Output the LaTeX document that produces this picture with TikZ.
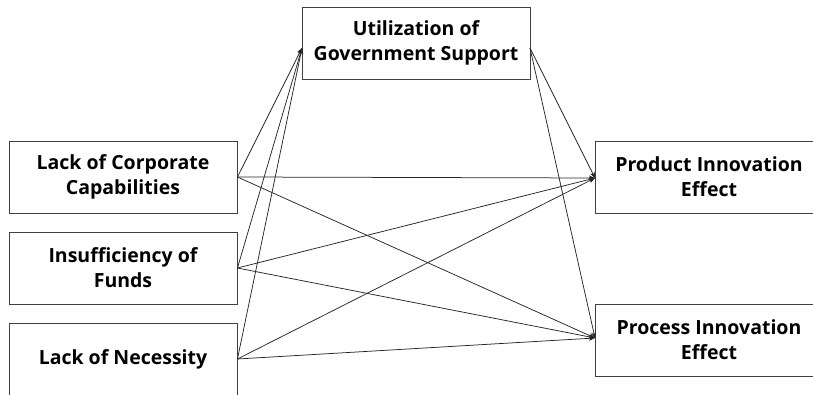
\documentclass[tikz,border=0pt]{standalone}
\usepackage{fontspec}
\setmainfont{Open Sans}
\usetikzlibrary{arrows.meta}
\begin{document}
\begin{tikzpicture}[x=1pt,y=-1pt,
  box/.style={draw=black!75,line width=0.9pt,minimum width=228pt,minimum height=72pt,inner sep=0pt,align=center,font=\bfseries\fontsize{19.5}{25}\selectfont,text=black},
  conn/.style={draw=black!85,line width=0.75pt,-{Stealth[length=6pt,width=5pt]}}]
\useasboundingbox (0,0) rectangle (813,395);
\clip (0,0) rectangle (813,395);
\node[box] (cap) at (123,177) {Lack of Corporate\\Capabilities};
\node[box] (fund) at (123,268) {Insufficiency of\\Funds};
\node[box] (nec) at (123,359) {Lack of Necessity};
\node[box] (gov) at (416,43) {Utilization of\\Government Support};
\node[box] (prod) at (709,177) {Product Innovation\\Effect};
\node[box] (proc) at (709,340) {Process Innovation\\Effect};
\coordinate (govin) at (302,48);
\coordinate (govout) at (530,48);
\coordinate (prodin) at (595,178);
\coordinate (procin) at (595,338);
\foreach \s in {cap,fund,nec}{
  \draw[conn] (\s.east) -- (govin);
  \draw[conn] (\s.east) -- (prodin);
  \draw[conn] (\s.east) -- (procin);
}
\draw[conn] (govout) -- (prodin);
\draw[conn] (govout) -- (procin);
\end{tikzpicture}
\end{document}
